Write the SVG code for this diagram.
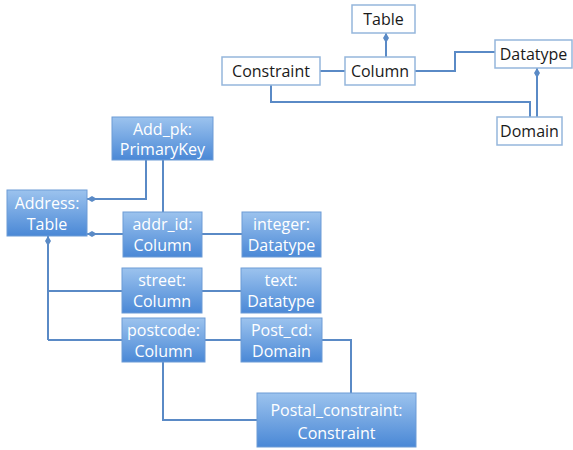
<svg xmlns="http://www.w3.org/2000/svg" width="573" height="450" viewBox="0 0 573 450">
<defs>
<linearGradient id="g" x1="0" y1="0" x2="0" y2="1">
<stop offset="0" stop-color="#9cc3ee"/>
<stop offset="1" stop-color="#4a88d6"/>
</linearGradient>
<marker id="dia" viewBox="0 0 12 8" refX="11" refY="4" markerWidth="12" markerHeight="8" markerUnits="userSpaceOnUse" orient="auto">
<path d="M1 4 L6 1 L11 4 L6 7 Z" fill="#5a8ac6"/>
</marker>
</defs>
<style>
.w rect{fill:#fff;stroke:#95b6dc;stroke-width:1.5}
.w text{font-family:"Open Sans","Liberation Sans",sans-serif;font-size:16px;fill:#1a1a1a;text-anchor:middle}
.b rect{fill:url(#g);stroke:#6d9bd6;stroke-width:1}
.b text{font-family:"Open Sans","Liberation Sans",sans-serif;font-size:16px;fill:#fff;text-anchor:middle}
.c path{fill:none;stroke:#5a8ac6;stroke-width:2}
</style>
<g class="c" id="connectors">
<path d="M386 57 V33" marker-end="url(#dia)"/>
<path d="M320 71 H345"/>
<path d="M415 71 H455 V52 H495"/>
<path d="M271 85 V102 H530 V117"/>
<path d="M537 117 V68" marker-end="url(#dia)"/>
<path d="M146 160 V199 H87" marker-end="url(#dia)"/>
<path d="M163 160 V212"/>
<path d="M123 234 H87" marker-end="url(#dia)"/>
<path d="M202 234 H242"/>
<path d="M48 340 V236" marker-end="url(#dia)"/>
<path d="M48 291 H122"/>
<path d="M48 340 H122"/>
<path d="M202 291 H241"/>
<path d="M205 340 H241"/>
<path d="M322 340 H351 V393"/>
<path d="M163 362 V420 H257"/>
</g>
<g class="w" id="Table"><rect x="352" y="5" width="63" height="28"/><text x="383.5" y="25">Table</text></g>
<g class="w" id="Constraint"><rect x="222" y="57" width="98" height="28"/><text x="271" y="77">Constraint</text></g>
<g class="w" id="Column"><rect x="345" y="57" width="70" height="28"/><text x="380" y="77">Column</text></g>
<g class="w" id="Datatype"><rect x="495" y="40" width="77" height="28"/><text x="533.5" y="60">Datatype</text></g>
<g class="w" id="Domain"><rect x="497" y="117" width="65" height="28"/><text x="529.5" y="137">Domain</text></g>
<g class="b" id="Add_pk"><rect x="112" y="117" width="101" height="43"/><text x="162.5" y="135">Add_pk:</text><text x="162.5" y="155">PrimaryKey</text></g>
<g class="b" id="Address"><rect x="7" y="190" width="80" height="46"/><text x="47" y="209">Address:</text><text x="47" y="230">Table</text></g>
<g class="b" id="addr_id"><rect x="123" y="212" width="79" height="45"/><text x="162.5" y="230">addr_id:</text><text x="162.5" y="251">Column</text></g>
<g class="b" id="integer"><rect x="242" y="212" width="79" height="45"/><text x="281.5" y="230">integer:</text><text x="281.5" y="251">Datatype</text></g>
<g class="b" id="street"><rect x="122" y="268" width="80" height="45"/><text x="162" y="286">street:</text><text x="162" y="307">Column</text></g>
<g class="b" id="text"><rect x="241" y="268" width="80" height="45"/><text x="281" y="286">text:</text><text x="281" y="307">Datatype</text></g>
<g class="b" id="postcode"><rect x="122" y="318" width="83" height="44"/><text x="163.5" y="336">postcode:</text><text x="163.5" y="357">Column</text></g>
<g class="b" id="Post_cd"><rect x="241" y="318" width="81" height="44"/><text x="281.5" y="336">Post_cd:</text><text x="281.5" y="357">Domain</text></g>
<g class="b" id="Postal_constraint"><rect x="257" y="393" width="159" height="54"/><text x="336.5" y="416">Postal_constraint:</text><text x="336.5" y="439">Constraint</text></g>
</svg>
